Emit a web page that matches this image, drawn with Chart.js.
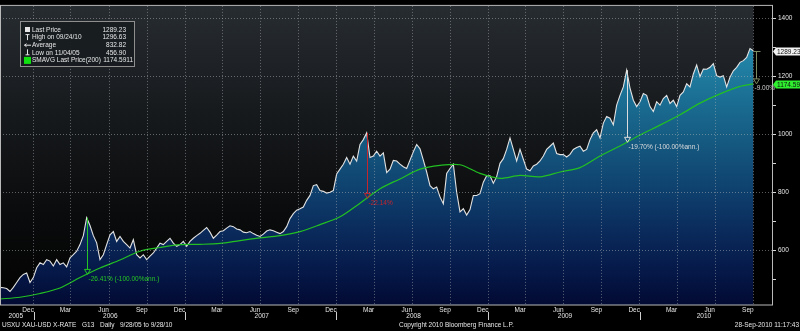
<!DOCTYPE html>
<html>
<head>
<meta charset="utf-8">
<title>USXU XAU-USD X-RATE</title>
<script src="https://cdn.jsdelivr.net/npm/chart.js@4.4.1/dist/chart.umd.min.js"></script>
<style>
html, body { margin: 0; padding: 0; background: #000; }
canvas { display: block; }
</style>
</head>
<body>
<canvas id="gold" width="800" height="331"></canvas>
<script>
// evenly spaced closes, first sample 2005-10-08, last 2010-09-28
var seriesStart = '2005-10-08';
var seriesEnd = '2010-09-28';
var closes = [
	471, 470, 467, 456.90, 471, 488, 505, 516, 521, 488,
	505, 539, 556, 550, 567, 562, 545, 567, 550, 556,
	542, 573, 584, 596, 619, 650, 712, 685, 650, 625,
	567, 584, 619, 653, 664, 630, 647, 630, 619, 607,
	636, 584, 573, 584, 567, 579, 590, 607, 624, 619,
	630, 641, 624, 613, 619, 630, 613, 630, 641,
	650, 658, 668, 678, 662, 641, 652, 664, 667, 676,
	684, 681, 673, 670, 662, 660, 664, 657, 651, 647,
	655, 666, 670, 667, 662, 657, 664, 681, 709, 726,
	738, 743, 749, 772, 789, 823, 826, 806, 803, 797,
	800, 806, 863, 880, 897, 920, 897, 925, 908, 965,
	982, 1005, 920, 925, 942, 925, 936,
	868, 880, 910, 908, 897, 888, 882, 911, 940, 965,
	950, 911, 870, 823, 812, 818, 784, 760, 865, 882,
	897, 800, 732, 743, 721, 740, 789, 789, 795, 835,
	857, 857, 831, 854, 900, 916, 948, 988, 948, 908,
	948, 914, 880, 874, 891, 897, 908, 925, 948, 959,
	970, 934, 930, 930, 922, 931, 948, 955,
	959, 942, 948, 982, 1005, 1016, 988, 1039, 1062, 1056,
	1033, 1101, 1135, 1164, 1222, 1160, 1118, 1096, 1113, 1141,
	1135, 1096, 1079, 1113, 1101, 1124, 1135, 1107, 1118, 1096,
	1135, 1147, 1175, 1164, 1209, 1240, 1200, 1226, 1225, 1232,
	1245, 1203, 1198, 1203, 1164, 1198, 1220, 1232, 1249, 1255,
	1266, 1296.63, 1289.23
];

// 200 day moving average, read at every 6th sample
var smaAt = [0, 6, 12, 18, 24, 30, 36, 42, 48, 54, 60, 66, 72, 78, 84, 90, 96, 102, 108,
	114, 120, 126, 132, 138, 144, 150, 156, 162, 168, 174, 180, 186, 192, 198, 204, 210, 216, 222, 226];
var smaValues = [431, 437, 450, 469, 505, 538, 566, 596, 609, 619,
	620, 623, 633, 642, 650, 664, 688, 715, 762, 812,
	846, 880, 893, 895, 865, 848, 858, 853, 870, 885,
	925, 960, 998, 1032, 1068, 1108, 1140, 1166, 1174.5911];

var averageClose = 832.82;
var legendNames = ['Last Price', 'High on 09/24/10', 'Average', 'Low on 11/04/05', 'SMAVG Last Price(200)'];

var quarterMonths = ['2005-12', '2006-03', '2006-06', '2006-09', '2006-12', '2007-03', '2007-06', '2007-09',
	'2007-12', '2008-03', '2008-06', '2008-09', '2008-12', '2009-03', '2009-06', '2009-09',
	'2009-12', '2010-03', '2010-06', '2010-09'];
var quarterLabels = ['Dec', 'Mar', 'Jun', 'Sep', 'Dec', 'Mar', 'Jun', 'Sep', 'Dec', 'Mar',
	'Jun', 'Sep', 'Dec', 'Mar', 'Jun', 'Sep', 'Dec', 'Mar', 'Jun', 'Sep'];
var yearLabels = ['2005', '2006', '2007', '2008', '2009', '2010'];
var yearLabelDates = ['2005-11-15', '2006-07-01', '2007-07-01', '2008-07-01', '2009-07-01', '2010-06-01'];
var yearBreakDates = ['2005-12-28', '2006-12-28', '2007-12-28', '2008-12-28', '2009-12-28'];

var yTickStep = 100;
var yLabelStep = 200;

// drawdown arrows: sample index, text
var dropAt = [26, 110, 188];
var dropText = ['-26.41% (-100.00%ann.)', '-22.14%', '-19.70% (-100.00%ann.)'];
var dropColor = ['#25c425', '#c4262c', '#dcdcdc'];
var lastDropText = '-9.00%';

var FONT = "'Liberation Sans', Arial, sans-serif";
var TEXT = '#e6e6e6';
var GRID = 'rgba(175,180,186,0.5)';

var t0 = Date.parse(seriesStart + 'T00:00:00Z');
var t1 = Date.parse(seriesEnd + 'T00:00:00Z');
function dateIndex(s) {
	return (Date.parse(s + 'T00:00:00Z') - t0) / (t1 - t0) * (closes.length - 1);
}

function smaAtIndex(i) {
	for (var k = 1; k < smaAt.length; k++) {
		if (i <= smaAt[k]) {
			var f = (i - smaAt[k - 1]) / (smaAt[k] - smaAt[k - 1]);
			return smaValues[k - 1] + f * (smaValues[k] - smaValues[k - 1]);
		}
	}
	return smaValues[smaValues.length - 1];
}

var pricePoints = closes.map(function (v, i) { return {x: i, y: v}; });
var smaPoints = smaValues.map(function (v, k) { return {x: smaAt[k], y: v}; });

var backdrop = {
	id: 'backdrop',
	beforeDraw: function (chart) {
		var ctx = chart.ctx, a = chart.chartArea;
		var xEnd = chart.scales.x.getPixelForValue(closes.length - 1);
		ctx.save();
		ctx.fillStyle = '#000';
		ctx.fillRect(0, 0, chart.width, chart.height);
		var g = ctx.createLinearGradient(0, a.top, 0, a.bottom);
		g.addColorStop(0, '#272c31');
		g.addColorStop(0.35, '#171a1d');
		g.addColorStop(0.7, '#0a0b0c');
		g.addColorStop(1, '#020202');
		ctx.fillStyle = g;
		ctx.fillRect(a.left, a.top, xEnd - a.left, a.bottom - a.top);
		ctx.restore();
	}
};

var marks = {
	id: 'marks',
	afterDatasetsDraw: function (chart) {
		var ctx = chart.ctx, xs = chart.scales.x, ys = chart.scales.y;
		ctx.save();
		ctx.font = '6.5px ' + FONT;
		ctx.textBaseline = 'middle';
		ctx.lineWidth = 1;
		dropAt.forEach(function (i, n) {
			var x = Math.round(xs.getPixelForValue(i)) + 0.5;
			var yTop = ys.getPixelForValue(closes[i]);
			var yBot = ys.getPixelForValue(smaAtIndex(i));
			ctx.strokeStyle = dropColor[n];
			ctx.fillStyle = dropColor[n];
			ctx.beginPath();
			ctx.moveTo(x, yTop);
			ctx.lineTo(x, yBot - 5);
			ctx.stroke();
			ctx.beginPath();
			ctx.moveTo(x - 3, yBot - 5);
			ctx.lineTo(x + 3, yBot - 5);
			ctx.lineTo(x, yBot);
			ctx.closePath();
			ctx.stroke();
			ctx.textAlign = 'left';
			ctx.fillText(dropText[n], x + 1, yBot + 5);
		});

		// bracket from the last close down to the moving average
		var last = closes.length - 1;
		var bx = Math.round(xs.getPixelForValue(last)) + 3.5;
		var by0 = Math.round(ys.getPixelForValue(closes[last])) + 0.5;
		var by1 = ys.getPixelForValue(smaValues[smaValues.length - 1]);
		ctx.strokeStyle = '#7c8a60';
		ctx.beginPath();
		ctx.moveTo(bx - 3, by0);
		ctx.lineTo(bx + 4, by0);
		ctx.moveTo(bx, by0);
		ctx.lineTo(bx, by1 - 5);
		ctx.stroke();
		ctx.beginPath();
		ctx.moveTo(bx - 3, by1 - 5);
		ctx.lineTo(bx + 3, by1 - 5);
		ctx.lineTo(bx, by1);
		ctx.closePath();
		ctx.stroke();
		ctx.fillStyle = '#cfcfcf';
		ctx.textAlign = 'left';
		ctx.fillText(lastDropText, bx - 2, by1 + 4);
		ctx.restore();
	}
};

var frame = {
	id: 'frame',
	afterDraw: function (chart) {
		var ctx = chart.ctx, a = chart.chartArea, xs = chart.scales.x, ys = chart.scales.y;
		ctx.save();
		ctx.strokeStyle = '#b9b9b9';
		ctx.lineWidth = 1;
		ctx.strokeRect(a.left + 0.5, a.top - 0.5, a.right - a.left, a.bottom - a.top + 0.5);

		// price tags on the right axis
		ctx.font = '6.5px ' + FONT;
		ctx.textBaseline = 'middle';
		ctx.textAlign = 'left';
		function tag(value, text, bg) {
			var y = Math.round(ys.getPixelForValue(value)) + 0.5;
			ctx.fillStyle = bg;
			ctx.beginPath();
			ctx.moveTo(a.right + 1, y);
			ctx.lineTo(a.right + 4, y - 4);
			ctx.lineTo(chart.width, y - 4);
			ctx.lineTo(chart.width, y + 4);
			ctx.lineTo(a.right + 4, y + 4);
			ctx.closePath();
			ctx.fill();
			ctx.fillStyle = '#111';
			ctx.fillText(text, a.right + 5, y + 0.5);
		}
		var lastClose = closes[closes.length - 1];
		var lastSma = smaValues[smaValues.length - 1];
		tag(lastClose, lastClose.toFixed(2), '#f2f2f2');
		tag(lastSma, lastSma.toFixed(2), '#2ef02e');

		// year row
		ctx.fillStyle = TEXT;
		ctx.textAlign = 'center';
		yearLabels.forEach(function (lbl, k) {
			ctx.fillText(lbl, xs.getPixelForValue(dateIndex(yearLabelDates[k])), 316.5);
		});
		ctx.strokeStyle = '#cfcfcf';
		yearBreakDates.forEach(function (d) {
			var x = Math.round(xs.getPixelForValue(dateIndex(d))) + 0.5;
			ctx.beginPath();
			ctx.moveTo(x, 312);
			ctx.lineTo(x, 320);
			ctx.stroke();
		});

		// footer
		ctx.textAlign = 'left';
		ctx.fillText('USXU', 2, 325.5);
		ctx.fillText('XAU-USD X-RATE', 22, 325.5);
		ctx.fillText('G13', 82, 325.5);
		ctx.fillText('Daily', 100, 325.5);
		ctx.fillText('9/28/05 to 9/28/10', 120, 325.5);
		ctx.fillText('Copyright 2010 Bloomberg Finance L.P.', 399, 325.5);
		ctx.textAlign = 'right';
		ctx.fillText('28-Sep-2010 11:17:43', 799, 325.5);

		// legend box
		var lx = 20.5, ly = 21.5;
		ctx.fillStyle = 'rgba(24,28,32,0.92)';
		ctx.fillRect(lx, ly, 114, 45);
		ctx.strokeStyle = '#8e8e8e';
		ctx.strokeRect(lx, ly, 114, 45);
		var values = [
			closes[closes.length - 1].toFixed(2),
			Math.max.apply(null, closes).toFixed(2),
			averageClose.toFixed(2),
			Math.min.apply(null, closes).toFixed(2),
			smaValues[smaValues.length - 1].toFixed(4)
		];
		ctx.font = '6.5px ' + FONT;
		legendNames.forEach(function (name, r) {
			var y = 29.5 + r * 7.6;
			ctx.fillStyle = TEXT;
			ctx.strokeStyle = TEXT;
			ctx.beginPath();
			if (r === 0) {
				ctx.fillRect(25, y - 2.5, 5, 5);
			} else if (r === 1) {
				ctx.moveTo(25.5, y - 2.5); ctx.lineTo(29.5, y - 2.5);
				ctx.moveTo(27.5, y - 2.5); ctx.lineTo(27.5, y + 3);
			} else if (r === 2) {
				ctx.moveTo(24.5, y + 0.5); ctx.lineTo(31, y + 0.5);
				ctx.moveTo(26.5, y - 1); ctx.lineTo(24.5, y + 0.5); ctx.lineTo(26.5, y + 2);
			} else if (r === 3) {
				ctx.moveTo(27.5, y - 3); ctx.lineTo(27.5, y + 2.5);
				ctx.moveTo(25.5, y + 2.5); ctx.lineTo(29.5, y + 2.5);
			} else {
				ctx.fillStyle = '#10e010';
				ctx.fillRect(24, y - 3, 7, 7);
				ctx.fillStyle = TEXT;
			}
			ctx.stroke();
			ctx.textAlign = 'left';
			ctx.fillText(name, 32, y + 0.5);
			ctx.textAlign = 'right';
			ctx.fillText(values[r], r === 4 ? 133 : 126, y + 0.5);
		});
		ctx.restore();
	}
};

var ctx = document.getElementById('gold').getContext('2d');
var chart = new Chart(ctx, {
	type: 'line',
	data: {
		datasets: [{
			label: 'Last Price',
			data: pricePoints,
			borderColor: '#e2e2e2',
			borderWidth: 1.1,
			pointRadius: 0,
			tension: 0,
			order: 2,
			fill: 'start',
			backgroundColor: function (c) {
				var area = c.chart.chartArea;
				if (!area) return 'rgba(20,100,140,0.8)';
				var g = c.chart.ctx.createLinearGradient(0, area.top, 0, area.bottom);
				g.addColorStop(0, '#2a9cbd');
				g.addColorStop(0.15, '#2287a9');
				g.addColorStop(0.3, '#1b7095');
				g.addColorStop(0.45, '#155a81');
				g.addColorStop(0.6, '#0f4370');
				g.addColorStop(0.75, '#0a2b5c');
				g.addColorStop(0.9, '#051746');
				g.addColorStop(1, '#020a32');
				return g;
			}
		}, {
			label: 'SMAVG Last Price(200)',
			data: smaPoints,
			borderColor: '#22c022',
			borderWidth: 1.2,
			pointRadius: 0,
			tension: 0.3,
			order: 1,
			fill: false
		}]
	},
	options: {
		responsive: false,
		animation: false,
		events: [],
		layout: { padding: { top: 1, left: 0, right: 0, bottom: 0 } },
		plugins: {
			legend: { display: false },
			tooltip: { enabled: false }
		},
		scales: {
			x: {
				type: 'linear',
				min: 0,
				max: 231.6,
				afterFit: function (s) { s.height = 26; },
				afterBuildTicks: function (s) {
					s.ticks = quarterMonths.map(function (m) { return {value: dateIndex(m + '-28')}; });
				},
				grid: { color: GRID, drawTicks: false, z: 1 },
				border: { display: false, dash: [1, 2] },
				ticks: {
					autoSkip: false,
					maxRotation: 0,
					labelOffset: -5.5,
					padding: 1,
					color: TEXT,
					font: { family: FONT, size: 6.5 },
					callback: function (v, i) { return quarterLabels[i]; }
				}
			},
			y: {
				position: 'right',
				min: 410.2,
				max: 1444.2,
				afterFit: function (s) { s.width = 28; },
				grid: {
					color: function (c) { return c.tick && c.tick.value % yLabelStep === 0 ? GRID : 'rgba(0,0,0,0)'; },
					tickColor: '#d6d6d6',
					tickLength: 4,
					z: 1
				},
				border: { display: false, dash: [1, 2] },
				ticks: {
					stepSize: yTickStep,
					includeBounds: false,
					padding: 2,
					color: TEXT,
					font: { family: FONT, size: 6.5 },
					callback: function (v) { return v % yLabelStep === 0 ? String(v) : ''; }
				}
			}
		}
	},
	plugins: [backdrop, marks, frame]
});
</script>
</body>
</html>
